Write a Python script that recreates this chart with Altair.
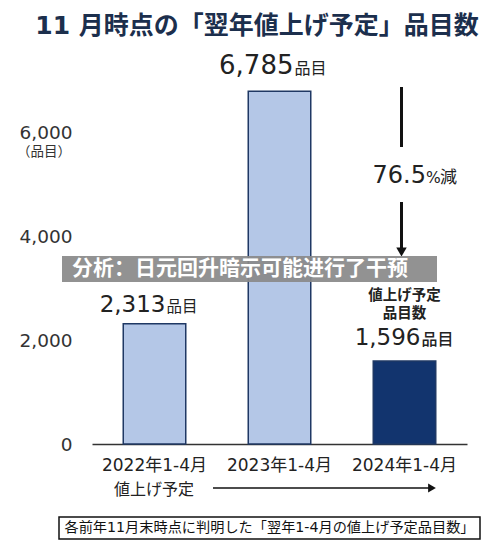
import altair as alt
import pandas as pd

categories = ["2022年1-4月", "2023年1-4月", "2024年1-4月"]
values = [2313, 6785, 1596]
bar_colors = ["#b4c7e7", "#b4c7e7", "#12346e"]
y_ticks = [0, 2000, 4000, 6000]

title_text = "11 月時点の「翌年値上げ予定」品目数"
unit_text = "品目"
axis_unit = "（品目）"
decline_num = "76.5"
decline_pct = "%"
decline_word = "減"
highlight_lines = ["値上げ予定", "品目数"]
bottom_note = "値上げ予定"
footer_text = "各前年11月末時点に判明した「翌年1-4月の値上げ予定品目数」"
overlay_text = "分析：日元回升暗示可能进行了干预"

FONT = "DejaVu Sans, Noto Sans CJK JP"
TXT = "#222222"

df = pd.DataFrame({"cat": categories, "val": values, "color": bar_colors})
one = pd.DataFrame({"k": [0]})

xenc = alt.X("cat:N", sort=categories,
             scale=alt.Scale(paddingInner=0.5, paddingOuter=0.25),
             axis=alt.Axis(title=None, labelAngle=0, labelFontSize=17, labelFont=FONT,
                           labelColor=TXT, ticks=False, tickSize=0, labelPadding=13,
                           domainColor="#333333", domainWidth=1.5))
yenc = alt.Y("val:Q", scale=alt.Scale(domain=[0, 7000], nice=False),
             axis=alt.Axis(title=None, values=y_ticks, format=",d", labelFontSize=18.5,
                           labelFont=FONT, labelColor="#333333", domain=False,
                           ticks=False, tickSize=0, grid=False, labelPadding=20))

base = alt.Chart(df)
bars = base.mark_bar(stroke="#1f3864", strokeWidth=1.5).encode(
    x=xenc, y=yenc, color=alt.Color("color:N", scale=None))


def value_label(cat, size, dy, split, unit_size, weight="normal"):
    f = base.transform_filter(alt.datum.cat == cat)
    num = f.mark_text(align="right", baseline="alphabetic", dx=split, dy=dy,
                      fontSize=size, font=FONT, color=TXT, fontWeight=weight).encode(
        x=alt.X("cat:N", sort=categories), y="val:Q", text=alt.Text("val:Q", format=",d"))
    unit = f.mark_text(align="left", baseline="alphabetic", dx=split + 1, dy=dy,
                       fontSize=unit_size, font=FONT, color=TXT, fontWeight=weight).encode(
        x=alt.X("cat:N", sort=categories), y="val:Q", text=alt.value(unit_text))
    return num + unit


lab1 = value_label(categories[0], 23, -12, 11, 15.5)
lab2 = value_label(categories[1], 26, -17, 14, 16)
lab3 = value_label(categories[2], 23, -16, 16, 16, weight=500)

f3 = base.transform_filter(alt.datum.cat == categories[2])
hl1 = f3.mark_text(align="center", baseline="alphabetic", dy=-61, fontSize=14.5,
                   font=FONT, color=TXT, fontWeight="bold").encode(
    x=alt.X("cat:N", sort=categories), y="val:Q", text=alt.value(highlight_lines[0]))
hl2 = f3.mark_text(align="center", baseline="alphabetic", dy=-43, fontSize=14.5,
                   font=FONT, color=TXT, fontWeight="bold").encode(
    x=alt.X("cat:N", sort=categories), y="val:Q", text=alt.value(highlight_lines[1]))

a = alt.Chart(one)


def txt(s, x, y, size, align="center", baseline="middle", weight="normal",
        color=TXT, font=FONT):
    return a.mark_text(align=align, baseline=baseline, fontSize=size, fontWeight=weight,
                       color=color, font=font).encode(
        x=alt.value(x), y=alt.value(y), text=alt.value(s))


title = txt(title_text, 165, -54, 25, weight="bold", color="#1c2f4d")
yunit = txt(axis_unit, -48, 72, 13.5, color="#333333")

# vertical decrease arrow
v1 = a.mark_rule(strokeWidth=3, color="#111111").encode(
    x=alt.value(309.5), y=alt.value(7), y2=alt.value(67))
v2 = a.mark_rule(strokeWidth=3, color="#111111").encode(
    x=alt.value(309.5), y=alt.value(122), y2=alt.value(170))
vhead = a.mark_point(shape="triangle-down", filled=True, size=110, color="#111111",
                     opacity=1).encode(x=alt.value(309.5), y=alt.value(172))
d1 = txt(decline_num, 334, 103, 24, align="right", baseline="alphabetic")
d2 = txt(decline_pct, 334, 103, 15.5, align="left", baseline="alphabetic")
d3 = txt(decline_word, 348, 103, 17, align="left", baseline="alphabetic")

# bottom note and horizontal arrow
bnote = txt(bottom_note, 62, 415, 16, baseline="alphabetic")
h1 = a.mark_rule(strokeWidth=1.5, color="#111111").encode(
    x=alt.value(121), x2=alt.value(338), y=alt.value(408))
hhead = a.mark_point(shape="triangle-right", filled=True, size=80, color="#111111",
                     opacity=1).encode(x=alt.value(340), y=alt.value(408))

# footer box
fbox = a.mark_rect(fill="white", stroke="#111111", strokeWidth=1.5).encode(
    x=alt.value(-33), x2=alt.value(388), y=alt.value(437), y2=alt.value(459))
ftxt = txt(footer_text, 177.5, 448, 14.2, color="#111111")

# overlay banner
obox = a.mark_rect(fill="#8a8a8a", opacity=0.93).encode(
    x=alt.value(-30), x2=alt.value(345), y=alt.value(176), y2=alt.value(202))
otxt = txt(overlay_text, -20, 189, 21, align="left", weight="bold", color="white",
           font="Noto Sans CJK SC")

chart = alt.layer(
    bars, lab1, lab2, lab3, hl1, hl2, title, yunit, v1, v2, vhead, d1, d2, d3,
    bnote, h1, hhead, fbox, ftxt, obox, otxt
).properties(
    width=375, height=364,
    autosize=alt.AutoSizeParams(type="none"),
    padding={"left": 84, "top": 72, "right": 25, "bottom": 98},
    background="white",
).configure_view(stroke=None)

chart.save("out.html", embed_options={"renderer": "svg", "actions": False})
